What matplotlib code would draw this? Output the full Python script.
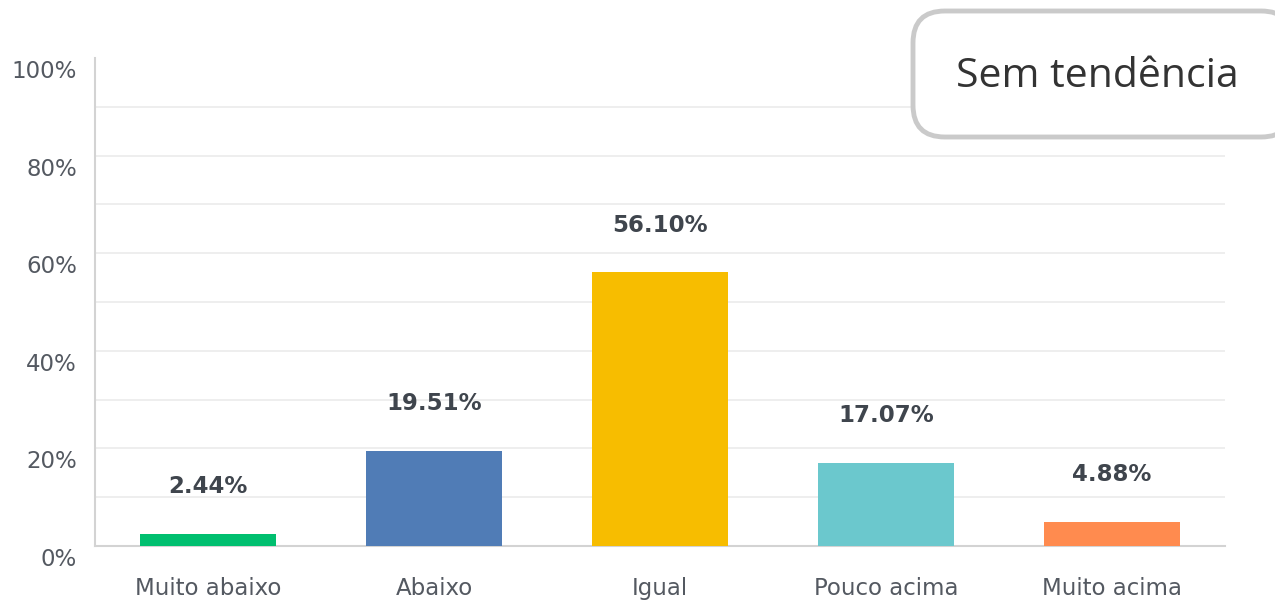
import matplotlib
matplotlib.use("Agg")
import matplotlib.pyplot as plt
from matplotlib.patches import FancyBboxPatch
from matplotlib.transforms import ScaledTranslation

# Data
categories = ["Muito abaixo", "Abaixo", "Igual", "Pouco acima", "Muito acima"]
values = [2.44, 19.51, 56.10, 17.07, 4.88]
colors = ["#00bf6f", "#507cb6", "#f7bd00", "#6bc8cd", "#ff8b4f"]
y_ticks = [0, 20, 40, 60, 80, 100]
y_tick_labels = ["0%", "20%", "40%", "60%", "80%", "100%"]
grid_levels = [10, 20, 30, 40, 50, 60, 70, 80, 90]
badge_text = "Sem tendência"

tick_color = "#545961"
value_color = "#3f454d"

fig = plt.figure(figsize=(12.75, 6.02), dpi=100)
ax = fig.add_axes([95 / 1275, 1 - 546 / 602, 1130 / 1275, 488 / 602])

x = range(len(categories))
bars = ax.bar(x, values, width=0.6, color=colors, zorder=3)

ax.set_xlim(-0.5, len(categories) - 0.5)
ax.set_ylim(0, 100)

# light horizontal grid (no line at 100%)
for g in grid_levels:
    ax.axhline(g, color="#ebebeb", lw=1.2, zorder=1)

for s in ["top", "right"]:
    ax.spines[s].set_visible(False)
ax.spines["left"].set_color("#d3d3d3")
ax.spines["left"].set_linewidth(1.5)
ax.spines["bottom"].set_color("#d3d3d3")
ax.spines["bottom"].set_linewidth(1.5)

ax.set_yticks(y_ticks)
ax.set_yticklabels(y_tick_labels, fontsize=16.5, color=tick_color, family="DejaVu Sans")
ax.tick_params(axis="y", length=0, pad=13)
# the labels sit a bit below their gridline
for lab in ax.get_yticklabels():
    lab.set_transform(lab.get_transform() + ScaledTranslation(0, -0.11, fig.dpi_scale_trans))

ax.set_xticks(list(x))
ax.set_xticklabels(categories, fontsize=16.5, color=tick_color, family="DejaVu Sans")
ax.tick_params(axis="x", length=0, pad=22)

for b, v in zip(bars, values):
    ax.annotate(f"{v:.2f}%", (b.get_x() + b.get_width() / 2, v),
                xytext=(0, 34), textcoords="offset points",
                ha="center", va="center", fontsize=16.5, fontweight="bold",
                color=value_color, family="DejaVu Sans")

# rounded badge at top right
box = FancyBboxPatch((913 / 1275, 1 - 137 / 602), 380 / 1275, 126 / 602,
                     boxstyle="round,pad=0,rounding_size=0.025",
                     transform=fig.transFigure, facecolor="white",
                     edgecolor="#cacaca", linewidth=3.5, zorder=10,
                     mutation_aspect=1275 / 602)
fig.patches.append(box)
fig.text(1097 / 1275, 1 - 77 / 602, badge_text, ha="center", va="center",
         fontsize=29.5, color="#333333", family="Open Sans", zorder=11)

fig.savefig("out.png", dpi=100)
